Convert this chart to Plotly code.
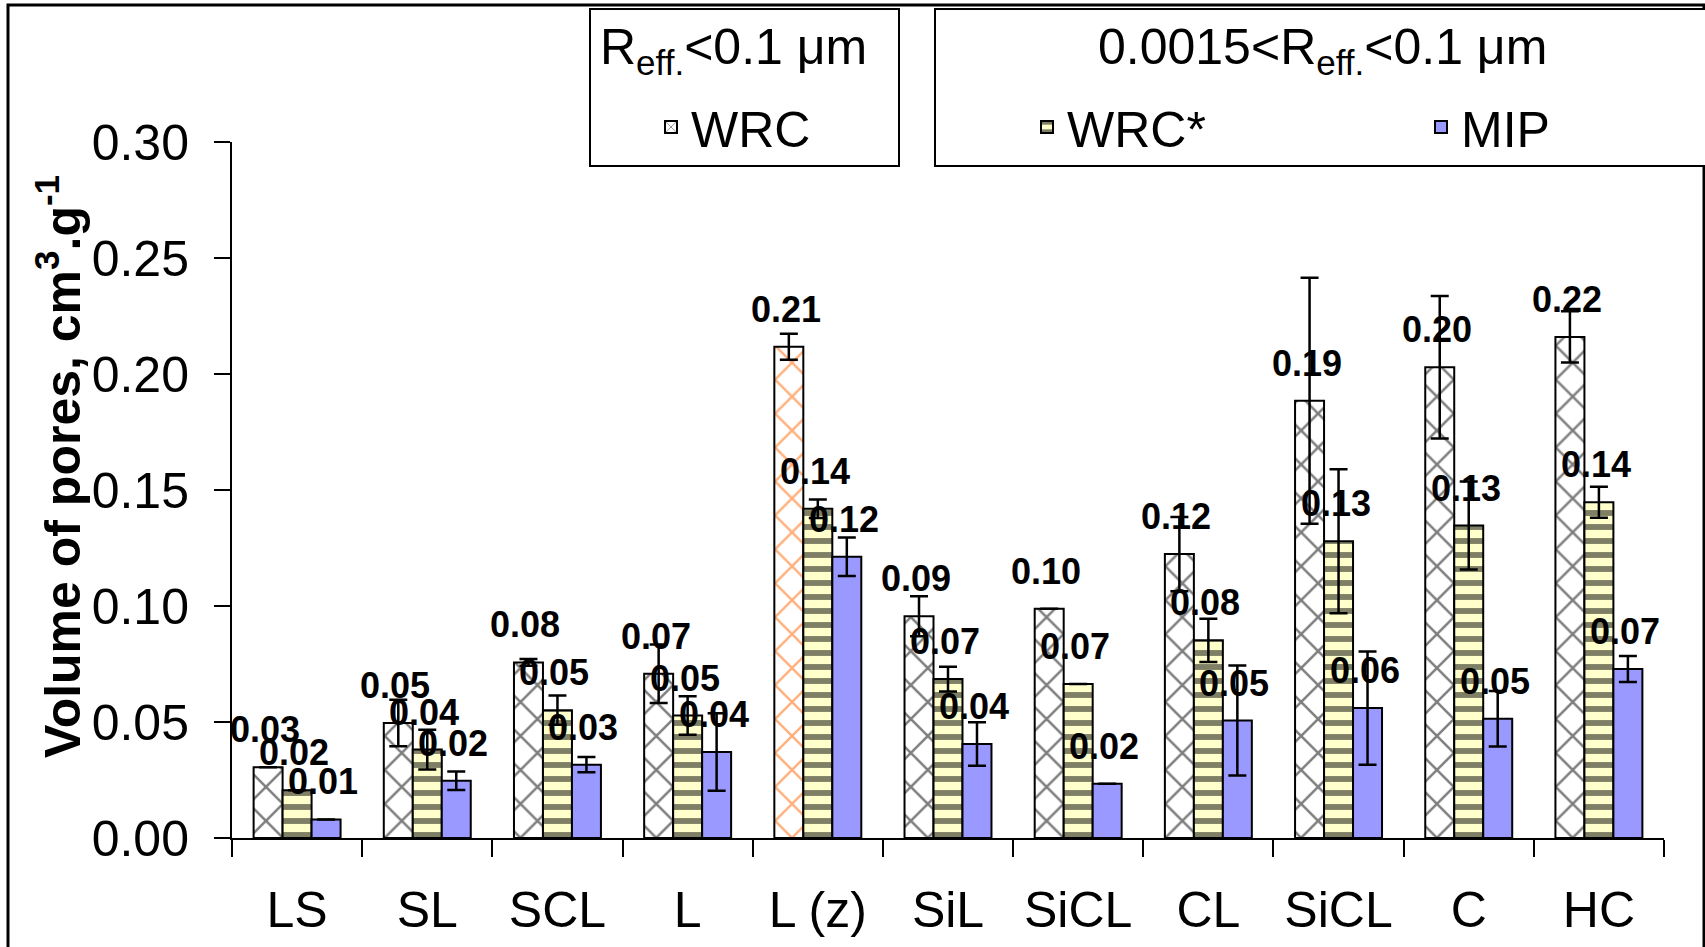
import plotly.graph_objects as go

# ---------------- data ----------------
categories = ["LS", "SL", "SCL", "L", "L (z)", "SiL", "SiCL", "CL", "SiCL", "C", "HC"]

wrc = [0.0305, 0.0496, 0.0757, 0.0708, 0.2117, 0.0956, 0.0988, 0.1224, 0.1885, 0.2029, 0.2160]
wrc_err = [None, 0.010, 0.0015, 0.0126, 0.0056, 0.0086, None, 0.016, 0.053, 0.0307, 0.011]
wrc_labels = ["0.03", "0.05", "0.08", "0.07", "0.21", "0.09", "0.10", "0.12", "0.19", "0.20", "0.22"]

wrc_star = [0.0206, 0.0381, 0.0551, 0.0528, 0.1419, 0.0685, 0.0664, 0.0852, 0.1279, 0.1347, 0.1447]
wrc_star_err = [None, 0.0086, 0.0063, 0.0083, 0.004, 0.0053, None, 0.0093, 0.031, 0.019, 0.0067]
wrc_star_labels = ["0.02", "0.04", "0.05", "0.05", "0.14", "0.07", "0.07", "0.08", "0.13", "0.13", "0.14"]

mip = [0.008, 0.0247, 0.0316, 0.0371, 0.1212, 0.0405, 0.0234, 0.0506, 0.056, 0.0514, 0.0728]
mip_err = [None, 0.004, 0.0033, 0.0167, 0.0083, 0.0094, None, 0.0237, 0.0244, 0.012, 0.0056]
mip_labels = ["0.01", "0.02", "0.03", "0.04", "0.12", "0.04", "0.02", "0.05", "0.06", "0.05", "0.07"]

y_ticks = [0.0, 0.05, 0.10, 0.15, 0.20, 0.25, 0.30]

# ---------------- layout constants ----------------
W, H = 1705, 947
ML, MR, MT, MB = 232, 41, 142, 109
PW, PH = W - ML - MR, H - MT - MB
FONT = "Liberation Sans, Arial, sans-serif"
BARGAP = 0.332
NSER = 3
BAR_W = (1 - BARGAP) / NSER


def px_x(px):
    return (px - ML) / PW


def px_y(py):
    return (H - MB - py) / PH


x = list(range(len(categories)))
wrc_fg = ["#FF6600" if c == "L (z)" else "black" for c in categories]

fig = go.Figure()
err_style = dict(type="data", color="black", thickness=2.5, width=9)

fig.add_trace(go.Bar(
    x=x, y=wrc, name="WRC", legend="legend",
    marker=dict(color="white", line=dict(color="black", width=2),
                pattern=dict(shape="x", fgcolor=wrc_fg, bgcolor="white",
                             size=24, solidity=0.2)),
    error_y=dict(array=wrc_err, **err_style),
))
fig.add_trace(go.Bar(
    x=x, y=wrc_star, name="WRC*", legend="legend2",
    marker=dict(color="#FFFFCC", line=dict(color="black", width=2),
                pattern=dict(shape="-", fgcolor="black", bgcolor="#FFFFCC",
                             size=14, solidity=0.42)),
    error_y=dict(array=wrc_star_err, **err_style),
))
fig.add_trace(go.Bar(
    x=x, y=mip, name="MIP", legend="legend2",
    marker=dict(color="#9999FF", line=dict(color="black", width=2)),
    error_y=dict(array=mip_err, **err_style),
))

annotations = []
for k, labels in enumerate([wrc_labels, wrc_star_labels, mip_labels]):
    vals = [wrc, wrc_star, mip][k]
    for i, (v, t) in enumerate(zip(vals, labels)):
        annotations.append(dict(
            x=i + (k - (NSER - 1) / 2) * BAR_W, y=v, xref="x", yref="y",
            text="<b>" + t + "</b>", showarrow=False,
            xanchor="center", yanchor="bottom", yshift=15, xshift=-3,
            font=dict(family=FONT, size=36, color="black"),
        ))

# y-axis title
annotations.append(dict(
    x=px_x(59), y=px_y(467), xref="paper", yref="paper",
    text="<b>Volume of pores, cm<sup>3</sup>.g<sup>-1</sup></b>",
    textangle=-90, showarrow=False, xanchor="center", yanchor="middle",
    font=dict(family=FONT, size=50, color="black"),
))
# legend group headers
annotations.append(dict(
    x=px_x(733), y=px_y(50), xref="paper", yref="paper",
    text="R<sub>eff.</sub>&lt;0.1 μm", showarrow=False,
    xanchor="center", yanchor="middle",
    font=dict(family=FONT, size=50, color="black"),
))
annotations.append(dict(
    x=px_x(1322), y=px_y(50), xref="paper", yref="paper",
    text="0.0015&lt;R<sub>eff.</sub>&lt;0.1 μm", showarrow=False,
    xanchor="center", yanchor="middle",
    font=dict(family=FONT, size=50, color="black"),
))

shapes = [
    # outer frame (bottom edge falls outside the page)
    dict(type="rect", xref="paper", yref="paper",
         x0=px_x(8), x1=px_x(1704), y0=px_y(5), y1=px_y(990),
         line=dict(color="black", width=3), fillcolor="rgba(0,0,0,0)", layer="below"),
    # legend boxes
    dict(type="rect", xref="paper", yref="paper",
         x0=px_x(590), x1=px_x(899), y0=px_y(9), y1=px_y(166),
         line=dict(color="black", width=2), fillcolor="white", layer="below"),
    dict(type="rect", xref="paper", yref="paper",
         x0=px_x(935), x1=px_x(1725), y0=px_y(9), y1=px_y(166),
         line=dict(color="black", width=2), fillcolor="white", layer="below"),
]

legend_font = dict(family=FONT, size=50, color="black")
fig.update_layout(
    width=W, height=H,
    margin=dict(l=ML, r=MR, t=MT, b=MB, autoexpand=False),
    paper_bgcolor="white", plot_bgcolor="white",
    barmode="group", bargap=BARGAP, bargroupgap=0,
    font=dict(family=FONT, color="black"),
    showlegend=True,
    legend=dict(x=px_x(651), y=px_y(127), xanchor="left", yanchor="middle",
                orientation="v", bgcolor="rgba(0,0,0,0)", borderwidth=0,
                font=legend_font),
    legend2=dict(x=px_x(1027), y=px_y(127), xanchor="left", yanchor="middle",
                 orientation="h", entrywidth=349, entrywidthmode="pixels",
                 bgcolor="rgba(0,0,0,0)", borderwidth=0, font=legend_font),
    xaxis=dict(
        range=[-0.5, len(categories) - 0.5],
        tickmode="array", tickvals=x, ticktext=categories,
        ticks="outside", ticklen=0, tickwidth=0,
        minor=dict(tickmode="array", tickvals=[i - 0.5 for i in range(len(categories) + 1)],
                   ticks="outside", ticklen=17, tickwidth=2, tickcolor="black"),
        showline=True, linecolor="black", linewidth=2,
        showgrid=False, zeroline=False,
        tickfont=dict(family=FONT, size=50, color="black"),
        ticklabelstandoff=27,
    ),
    yaxis=dict(
        range=[0, 0.30], tickmode="array", tickvals=y_ticks,
        tickformat=".2f",
        ticks="outside", ticklen=16, tickwidth=2, tickcolor="black",
        showline=True, linecolor="black", linewidth=2,
        showgrid=False, zeroline=False,
        tickfont=dict(family=FONT, size=50, color="black"),
        ticklabelstandoff=15,
    ),
    annotations=annotations,
    shapes=shapes,
)

fig.write_html("out.html", config={"displayModeBar": False},
               post_script="document.body.style.margin='0';document.body.style.overflow='hidden';")
